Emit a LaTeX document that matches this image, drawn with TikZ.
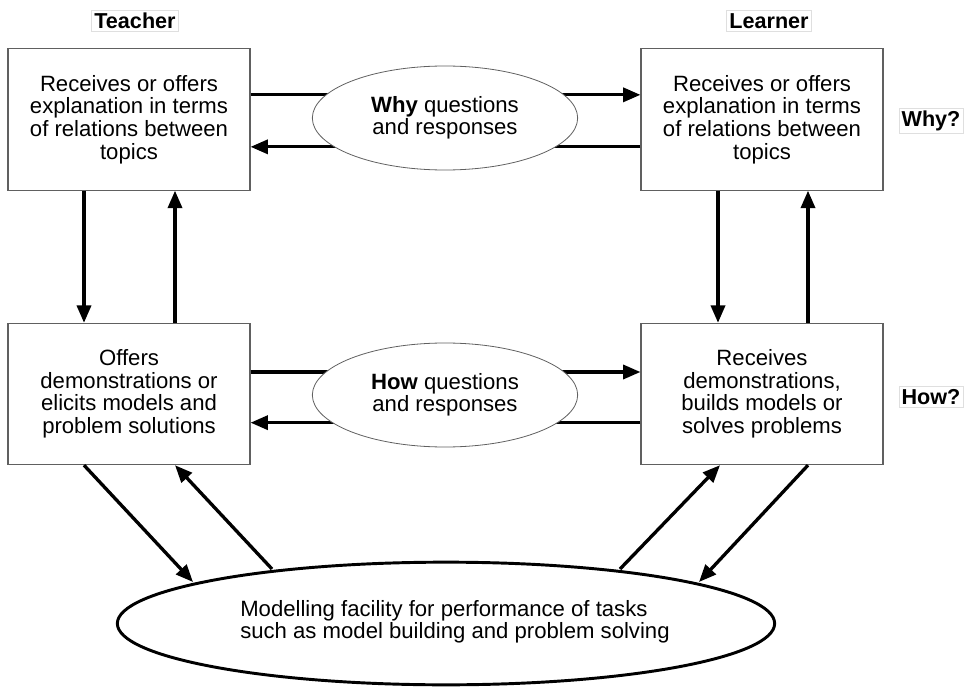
\documentclass[tikz,border=0pt]{standalone}
\usepackage{fontspec}
\setmainfont{Liberation Sans}
\usetikzlibrary{arrows.meta,shapes.geometric}
\begin{document}
\begin{tikzpicture}[x=0.75pt,y=-0.75pt,
  txt/.style={font=\fontsize{16.6}{16.9}\selectfont, align=center},
  stage/.style={txt, draw=gray!75!black, line width=0.8pt, minimum width=181.5pt,
    minimum height=106pt, inner sep=0pt},
  talk/.style={txt, ellipse, draw=gray!75!black, line width=0.6pt, fill=white,
    minimum width=199pt, minimum height=78pt, inner sep=0pt},
  tag/.style={txt, font=\fontsize{16.2}{17}\selectfont\bfseries, draw=gray!25,
    line width=0.6pt, inner sep=2pt},
  arr/.style={line width=2.5pt, -{Triangle[length=13pt,width=10.5pt]}}]
\useasboundingbox (0,0) rectangle (964,688);

% column headings and level labels
\node[tag] (teacher) at (135,21) {Teacher};
\node[tag] (learner) at (769,21) {Learner};
\node[tag] (why) at (931,121) {Why?};
\node[tag] (how) at (931,397) {How?};

% the four activity boxes
\node[stage] (tl) at (129,119.5) {Receives or offers\\explanation in terms\\of relations between\\topics};
\node[stage] (tr) at (762,119.5) {Receives or offers\\explanation in terms\\of relations between\\topics};
\node[stage] (bl) at (129,394) {Offers\\demonstrations or\\elicits models and\\problem solutions};
\node[stage] (br) at (762,394) {Receives\\demonstrations,\\builds models or\\solves problems};

% dialogue between teacher and learner (lines pass behind the ellipses)
\draw[arr] ([yshift=18.5pt]tl.east) -- ([yshift=18.5pt]tr.west);
\draw[arr] ([yshift=-20.5pt]tr.west) -- ([yshift=-20.5pt]tl.east);
\draw[arr] ([yshift=16.5pt]bl.east) -- ([yshift=16.5pt]br.west);
\draw[arr] ([yshift=-21.5pt]br.west) -- ([yshift=-21.5pt]bl.east);
\node[talk] (whyq) at (445,118) {\textbf{Why} questions\\and responses};
\node[talk] (howq) at (445,395) {\textbf{How} questions\\and responses};

% vertical links between the levels
\draw[arr] ([xshift=-33.75pt]tl.south) -- ([xshift=-33.75pt]bl.north);
\draw[arr] ([xshift=34.5pt]bl.north) -- ([xshift=34.5pt]tl.south);
\draw[arr] ([xshift=-33pt]tr.south) -- ([xshift=-33pt]br.north);
\draw[arr] ([xshift=34.5pt]br.north) -- ([xshift=34.5pt]tr.south);

% modelling facility
\node[ellipse, draw, line width=2.2pt, minimum width=493pt, minimum height=92pt,
  inner sep=0pt] (model) at (446,623.5) {};
\node[txt, align=left] (modeltxt) at (455,622) {Modelling facility for performance of tasks\\such as model building and problem solving};

\coordinate (m1) at (193,582);
\coordinate (m2) at (272,569);
\coordinate (m3) at (620,569);
\coordinate (m4) at (699,582);

\draw[arr] ([xshift=-33.75pt]bl.south) -- (m1);
\draw[arr] (m2) -- ([xshift=34.5pt]bl.south);
\draw[arr] (m3) -- ([xshift=-31.5pt]br.south);
\draw[arr] ([xshift=34.5pt]br.south) -- (m4);
\end{tikzpicture}
\end{document}
